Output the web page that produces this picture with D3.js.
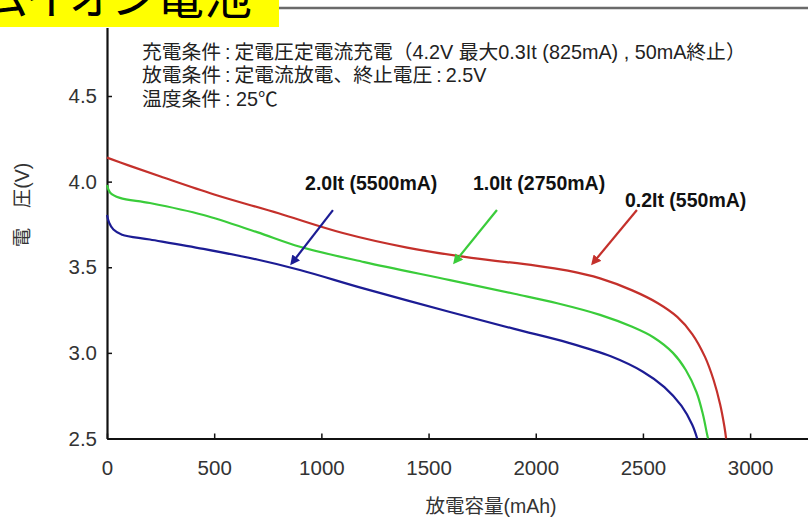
<!DOCTYPE html>
<html><head><meta charset="utf-8">
<script src="https://cdn.jsdelivr.net/npm/d3@7"></script>
<style>html,body{margin:0;padding:0;background:#fff}svg{display:block}</style>
</head><body>
<svg id="c" width="808" height="520"></svg>
<script>
// ---- data ----
const titleText = "リチウムイオン電池";
const conditionLines = [
  "充電条件\u2009:\u2009定電圧定電流充電（4.2V 最大0.3It (825mA) , 50mA終止）",
  "放電条件\u2009:\u2009定電流放電、終止電圧\u2009:\u20092.5V",
  "温度条件\u2009: 25℃"
];
const xTickValues = [0, 500, 1000, 1500, 2000, 2500, 3000];
const yTickValues = [2.5, 3.0, 3.5, 4.0, 4.5];
const xTitle = "放電容量(mAh)";
const yTitle = "電　圧(V)";

const seriesNames = ["0.2It (550mA)", "1.0It (2750mA)", "2.0It (5500mA)"];
const cap02  = [0, 100, 250, 500, 800, 1100, 1400, 1700, 2000, 2150, 2300, 2450, 2570, 2660, 2730, 2790, 2830, 2860, 2880, 2888];
const volt02 = [4.140, 4.095, 4.030, 3.925, 3.815, 3.700, 3.615, 3.555, 3.510, 3.480, 3.435, 3.365, 3.290, 3.210, 3.110, 2.975, 2.840, 2.700, 2.570, 2.5];
const cap10  = [0, 15, 60, 200, 450, 700, 900, 1200, 1600, 1900, 2100, 2300, 2450, 2550, 2640, 2700, 2750, 2780, 2800, 2804];
const volt10 = [3.980, 3.935, 3.905, 3.875, 3.805, 3.705, 3.620, 3.530, 3.425, 3.345, 3.290, 3.222, 3.152, 3.090, 3.000, 2.900, 2.770, 2.640, 2.520, 2.5];
const cap20  = [0, 10, 30, 70, 200, 450, 700, 900, 1200, 1600, 1900, 2150, 2350, 2500, 2600, 2680, 2730, 2753];
const volt20 = [3.805, 3.760, 3.720, 3.690, 3.662, 3.607, 3.545, 3.484, 3.375, 3.239, 3.140, 3.060, 2.980, 2.890, 2.800, 2.690, 2.580, 2.5];

// annotation anchor points (data units): label start, arrow start, arrow end
const labelCap   = [2416, 1707, 924];
const labelVolt  = [3.852, 3.951, 3.951];
const arrowCap0  = [2472, 1819, 1054];
const arrowVolt0 = [3.834, 3.834, 3.834];
const arrowCap1  = [2267, 1623, 863];
const arrowVolt1 = [3.525, 3.531, 3.525];

// ---- styles ----
const colors = ["#c4302b", "#3acc3a", "#1c1c94"];
const latin = "'Liberation Sans', Arial, 'Noto Sans CJK JP', sans-serif";

const svg = d3.select("#c");
const x = d3.scaleLinear().domain([0, 3270]).range([107, 808]);
const y = d3.scaleLinear().domain([2.5, 4.9]).range([438.5, 27.5]);

// title box (clipped at top of picture)
svg.append("defs").append("clipPath").attr("id", "tclip")
  .append("rect").attr("x", 0).attr("y", 0).attr("width", 279).attr("height", 27);
svg.append("rect").attr("x", 0).attr("y", 0).attr("width", 279).attr("height", 27).attr("fill", "#ffff00");
svg.append("text").attr("clip-path", "url(#tclip)")
  .attr("x", 252).attr("y", 14).attr("text-anchor", "end")
  .style("font-family", "'Noto Sans CJK JP', sans-serif")
  .style("font-feature-settings", "'palt'")
  .style("font-size", "48px").attr("fill", "#000").text(titleText);

// top frame line
svg.append("line").attr("x1", 279).attr("x2", 808).attr("y1", 8).attr("y2", 8)
  .attr("stroke", "#6a6a6a").attr("stroke-width", 2.5);

// axes
const gx = svg.append("g").attr("transform", `translate(0,${y(2.5)})`)
  .call(d3.axisBottom(x).tickValues(xTickValues).tickSizeInner(-5).tickSizeOuter(0).tickPadding(21.5).tickFormat(d3.format("d")));
const gy = svg.append("g").attr("transform", `translate(${x(0)},0)`)
  .call(d3.axisLeft(y).tickValues(yTickValues).tickSizeInner(-5).tickSizeOuter(0).tickPadding(10).tickFormat(d3.format(".1f")));
[gx, gy].forEach(g => {
  g.select(".domain").attr("stroke", "#111").attr("stroke-width", 2.2);
  g.selectAll(".tick line").attr("stroke", "#111").attr("stroke-width", 1.5);
  g.selectAll(".tick text").attr("fill", "#333").style("font-family", latin).style("font-size", "20.5px");
});

// axis titles
svg.append("text").attr("x", 491).attr("y", 513).attr("text-anchor", "middle")
  .style("font-family", latin).style("font-size", "19.5px").attr("fill", "#333").text(xTitle);
svg.append("text").attr("transform", "translate(29,205) rotate(-90)").attr("text-anchor", "middle")
  .style("font-family", latin).style("font-size", "19.5px").attr("fill", "#333").text(yTitle);

// conditions text
svg.append("g").selectAll("text").data(conditionLines).join("text")
  .attr("x", 142).attr("y", (d, i) => 58.5 + i * 23.5)
  .style("font-family", latin).style("font-size", "19.8px").attr("fill", "#222").text(d => d);

// curves
const series = [
  cap02.map((c, i) => [c, volt02[i]]),
  cap10.map((c, i) => [c, volt10[i]]),
  cap20.map((c, i) => [c, volt20[i]])
];
const line = d3.line().x(d => x(d[0])).y(d => y(d[1])).curve(d3.curveCatmullRom.alpha(0.5));
svg.append("g").selectAll("path").data(series).join("path")
  .attr("d", line).attr("fill", "none")
  .attr("stroke", (d, i) => colors[i]).attr("stroke-width", 2.2);

// arrow markers
const defs = svg.select("defs");
colors.forEach((c, i) => {
  defs.append("marker").attr("id", "ar" + i).attr("viewBox", "0 0 10 10")
    .attr("refX", 7).attr("refY", 5).attr("markerWidth", 4.5).attr("markerHeight", 4.5)
    .attr("orient", "auto").append("path").attr("d", "M0,0L10,5L0,10z").attr("fill", c);
});
svg.append("g").selectAll("line").data(seriesNames).join("line")
  .attr("x1", (d, i) => x(arrowCap0[i])).attr("y1", (d, i) => y(arrowVolt0[i]))
  .attr("x2", (d, i) => x(arrowCap1[i])).attr("y2", (d, i) => y(arrowVolt1[i]))
  .attr("stroke", (d, i) => colors[i]).attr("stroke-width", 2.2)
  .attr("marker-end", (d, i) => `url(#ar${i})`);

// curve labels
svg.append("g").selectAll("text").data(seriesNames).join("text")
  .attr("x", (d, i) => x(labelCap[i])).attr("y", (d, i) => y(labelVolt[i]))
  .style("font-family", latin).style("font-size", "19.5px").style("font-weight", "bold")
  .attr("fill", "#111").text(d => d);
</script>
</body></html>
